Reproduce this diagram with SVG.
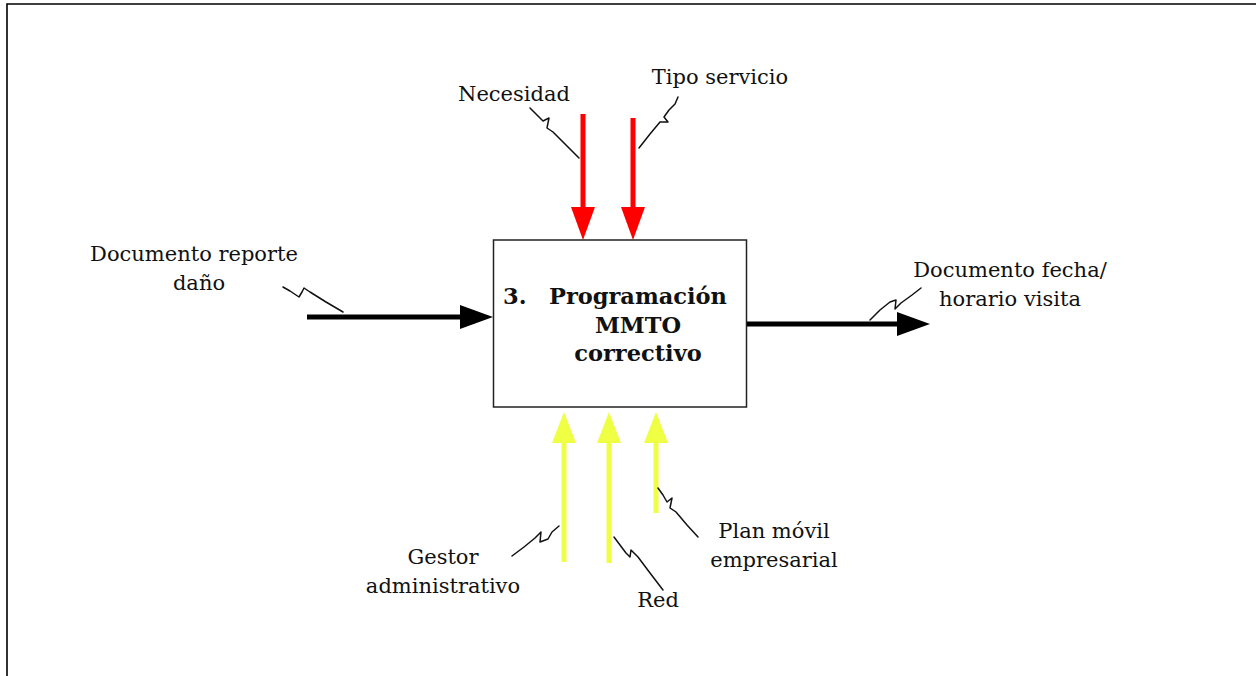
<svg xmlns="http://www.w3.org/2000/svg" width="1256" height="676" viewBox="0 0 1256 676">
<style>
.lbl{font-family:"DejaVu Serif","Liberation Serif",serif;font-size:21px;fill:#111;}
.bold{font-family:"DejaVu Serif","Liberation Serif",serif;font-size:22.5px;font-weight:bold;fill:#111;}
.sq{fill:none;stroke:#111;stroke-width:1.5;stroke-linejoin:round;stroke-linecap:round;}
.blk{stroke:#000;stroke-width:5;fill:none;}
.red{stroke:#ff0000;stroke-width:5;fill:none;}
.yel{stroke:#eeff44;stroke-width:5;fill:none;}
</style>
<defs>
<marker id="hb" viewBox="0 -12 33 24" markerWidth="33" markerHeight="24" markerUnits="userSpaceOnUse" refX="0" refY="0" orient="auto"><path d="M0,-12 L33,0 L0,12 z" fill="#000"/></marker>
<marker id="hr" viewBox="0 -12 33 24" markerWidth="33" markerHeight="24" markerUnits="userSpaceOnUse" refX="0" refY="0" orient="auto"><path d="M0,-12 L33,0 L0,12 z" fill="#ff0000"/></marker>
<marker id="hy" viewBox="0 -12 31 24" markerWidth="31" markerHeight="24" markerUnits="userSpaceOnUse" refX="0" refY="0" orient="auto"><path d="M0,-12 L31,0 L0,12 z" fill="#eeff44"/></marker>
</defs>
<rect width="1256" height="676" fill="#fff"/>
<path d="M7,676 V4 H1256" fill="none" stroke="#000" stroke-width="1.6"/>
<g id="process">
<rect x="493.5" y="240" width="253" height="167" fill="#fff" stroke="#222" stroke-width="1.5"/>
<text class="bold" x="503" y="304">3.</text>
<text class="bold" x="549" y="304">Programación</text>
<text class="bold" x="638" y="333" text-anchor="middle">MMTO</text>
<text class="bold" x="638" y="361" text-anchor="middle">correctivo</text>
</g>
<g id="connectors">
<path class="blk" d="M307,317 H460" marker-end="url(#hb)"/>
<path class="blk" d="M747,324 H897" marker-end="url(#hb)"/>
<path class="red" d="M583,114 V207" marker-end="url(#hr)"/>
<path class="red" d="M633,118 V207" marker-end="url(#hr)"/>
<path class="yel" d="M564,562 V443" marker-end="url(#hy)"/>
<path class="yel" d="M609,563 V443" marker-end="url(#hy)"/>
<path class="yel" d="M656,513 V443" marker-end="url(#hy)"/>
</g>
<g id="lbl-documento-reporte">
<text class="lbl" x="194" y="261" text-anchor="middle">Documento reporte</text>
<text class="lbl" x="199" y="290" text-anchor="middle">daño</text>
<path class="sq" d="M283,287 L290,291 L299,297 L302,292 L304,288 L310,292 L326,302 L343,312"/>
</g>
<g id="lbl-documento-fecha">
<text class="lbl" x="1010" y="277" text-anchor="middle">Documento fecha/</text>
<text class="lbl" x="1010" y="306" text-anchor="middle">horario visita</text>
<path class="sq" d="M870,320 L880,310 L890,302 L896,300 L895,309 L901,303 L912,295 L921,288"/>
</g>
<g id="lbl-necesidad">
<text class="lbl" x="514" y="101" text-anchor="middle">Necesidad</text>
<path class="sq" d="M530,108 L536,114 L543,121 L549,118 L547,128 L553,132 L566,145 L579,158"/>
</g>
<g id="lbl-tipo-servicio">
<text class="lbl" x="720" y="84" text-anchor="middle">Tipo servicio</text>
<path class="sq" d="M678,97 L675,104 L669,110 L664,117 L668,122 L660,122 L650,134 L639,148"/>
</g>
<g id="lbl-gestor">
<text class="lbl" x="443" y="564" text-anchor="middle">Gestor</text>
<text class="lbl" x="443" y="593" text-anchor="middle">administrativo</text>
<path class="sq" d="M512,556 L524,547 L535,538 L541,532 L540,542 L548,539 L552,532 L559,526"/>
</g>
<g id="lbl-red">
<text class="lbl" x="658" y="607" text-anchor="middle">Red</text>
<path class="sq" d="M614,537 L620,545 L626,553 L630,557 L631,550 L638,557 L650,573 L663,590"/>
</g>
<g id="lbl-plan">
<text class="lbl" x="774" y="538" text-anchor="middle">Plan móvil</text>
<text class="lbl" x="774" y="567" text-anchor="middle">empresarial</text>
<path class="sq" d="M658,488 L663,495 L667,502 L672,498 L670,508 L676,512 L687,525 L698,537"/>
</g>
</svg>
